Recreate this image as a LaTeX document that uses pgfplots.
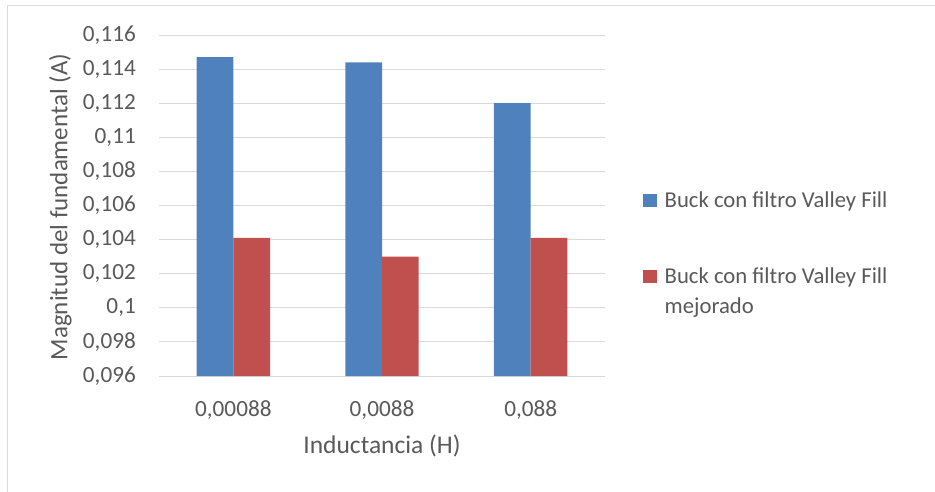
\documentclass[border=0pt]{standalone}
\usepackage{pgfplots}
\pgfplotsset{compat=1.18}
\usepackage{fontspec}
\setmainfont{Carlito}
\definecolor{barblue}{HTML}{4F81BD}
\definecolor{barred}{HTML}{C0504D}
\definecolor{gridgray}{HTML}{D9D9D9}
\definecolor{txtgray}{HTML}{595959}
\begin{document}
\fontsize{22.7}{30}\selectfont
\begin{tikzpicture}
\useasboundingbox (0,0) rectangle (935pt,491pt);
\draw[gridgray, line width=1pt] (7.3pt,-5pt) -- (7.3pt,485.3pt) -- (940pt,485.3pt);
\begin{axis}[
  at={(159pt,115pt)}, anchor=south west,
  scale only axis, width=446pt, height=341pt,
  ybar=0pt, bar width=36.7pt,
  xmin=-0.5, xmax=2.5, ymin=0.096, ymax=0.116,
  xtick={0,1,2}, xticklabels={{0,00088},{0,0088},{0,088}},
  ytick={0.096,0.098,0.1,0.102,0.104,0.106,0.108,0.11,0.112,0.114,0.116},
  yticklabels={{0,096},{0,098},{0,1},{0,102},{0,104},{0,106},{0,108},{0,11},{0,112},{0,114},{0,116}},
  axis line style={draw=none}, major tick length=0pt,
  ymajorgrids, grid style={gridgray, line width=1pt},
  tick label style={text=txtgray, inner sep=0pt, font=\fontsize{23.2}{28}\selectfont},
  yticklabel style={xshift=-23pt},
  xticklabel style={yshift=-24pt},
  xlabel={Inductancia (H)}, ylabel={Magnitud del fundamental (A)},
  xlabel style={at={(axis description cs:0.5,0)}, anchor=north, yshift=-59pt, inner sep=0pt, text=txtgray, font=\fontsize{25.5}{30}\selectfont},
  ylabel style={at={(axis description cs:-0.2209,0.496)}, anchor=center, inner sep=0pt, text=txtgray, font=\fontsize{25}{30}\selectfont},
  legend style={at={(axis description cs:1.0852,0.548)}, anchor=north west, draw=none, fill=none,
    inner sep=0pt, row sep=53pt, column sep=6pt, text=txtgray,
    cells={anchor=base west, inner sep=0pt}},
  legend image code/.code={\fill[#1] (0pt,0pt) rectangle (13.5pt,13.5pt);},
]
\addplot[fill=barblue, draw=none] coordinates {(0,0.1147) (1,0.1144) (2,0.1120)};
\addplot[fill=barred, draw=none] coordinates {(0,0.1041) (1,0.1030) (2,0.1041)};
\legend{Buck con filtro Valley Fill, {\parbox[t]{8cm}{Buck con filtro Valley Fill\\mejorado}}}
\end{axis}
\end{tikzpicture}
\end{document}
